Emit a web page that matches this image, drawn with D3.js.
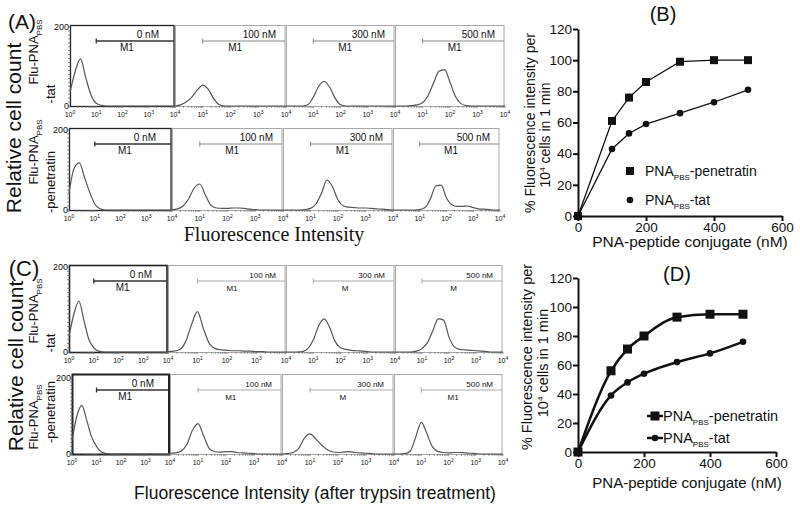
<!DOCTYPE html>
<html><head><meta charset="utf-8">
<script src="https://cdn.jsdelivr.net/npm/d3@7"></script>
<style>
body{margin:0;background:#fff}
svg{display:block}
text{font-family:"Liberation Sans",Arial,sans-serif;fill:#111}
</style>
</head><body>
<svg id="c" width="800" height="507"></svg>
<script>
// ---------- DATA ----------
// histogram channel grid (log10 of fluorescence intensity)
const logGrid = [0,0.2,0.4,0.6,0.8,1.0,1.2,1.4,1.6,1.8,2.0,2.2,2.4,2.6,2.8,3.0,3.2,3.4,3.6,3.8,4.0];
const concLabels = ["0 nM","100 nM","300 nM","500 nM"];
const decadeTicks = [0,1,2,3,4];

// (A) cell counts per channel, Flu-PNA_PBS-tat
const histA_tat = [
  [35,88,120,72,28,7,2,0,0,0,0,0,0,0,0,0,0,0,0,0,0],
  [0,3,10,22,40,53,42,18,3,0,0,0,0,0,0,0,0,0,0,0,0],
  [0,0,0,0,3,22,50,62,48,20,3,0,0,0,0,0,0,0,0,0,0],
  [0,0,0,1,3,8,26,58,88,92,60,24,6,1,0,0,0,0,0,0,0]
];
// (A) Flu-PNA_PBS-penetratin
const histA_pen = [
  [42,105,118,82,45,15,3,0,0,0,0,0,0,0,0,0,0,0,0,0,0],
  [1,3,10,28,55,65,38,12,5,4,4,5,5,4,2,1,0,0,0,0,0],
  [0,0,0,0,1,4,15,42,75,58,25,10,7,6,5,5,4,3,2,1,0],
  [0,0,0,0,0,1,6,28,60,62,30,13,9,9,10,6,3,2,1,0,0]
];
// (C) after trypsin, tat
const histC_tat = [
  [36,90,120,75,30,10,2,0,0,0,0,0,0,0,0,0,0,0,0,0,0],
  [1,2,6,25,65,95,55,20,8,5,4,3,3,2,2,1,1,0,0,0,0],
  [0,0,0,1,8,28,62,78,58,25,10,6,4,3,2,1,0,0,0,0,0],
  [0,0,0,0,2,8,22,50,78,75,35,12,6,5,4,3,2,1,0,0,0]
];
// (C) after trypsin, penetratin
const histC_pen = [
  [35,100,128,89,45,20,5,1,0,0,0,0,0,0,0,0,0,0,0,0,0],
  [2,3,8,25,62,80,48,15,6,5,6,6,4,3,2,1,0,0,0,0,0],
  [0,1,4,15,42,53,40,25,12,6,4,5,6,4,3,2,1,0,0,0,0],
  [0,0,1,8,45,83,55,20,7,4,3,4,4,3,2,1,0,0,0,0,0]
];
const gateA = ["M1","M1","M1","M1"];
const gateC_tat = ["M1","M1","M","M"];
const gateC_pen = ["M1","M1","M","M1"];

// (B) and (D) line charts
const concentrations = [0,100,150,200,300,400,500];
const B_penetratin = [0,61,76,86,99,100,100];
const B_tat = [0,43,53,59,66,73,81];
const D_penetratin = [0,56,71,80,93,95,95];
const D_tat = [0,39,48,54,62,68,76];
const yTicksLine = [0,20,40,60,80,100,120];
const xTicksLine = [0,200,400,600];

// ---------- DRAW ----------
const svg = d3.select("#c");

function histRow(cfg){
  const g = svg.append("g");
  cfg.data.forEach((counts,i)=>{
    const x0 = cfg.xs[i], x1 = cfg.xs[i+1];
    const x = d3.scaleLinear().domain([0,4]).range([x0, x1]);
    const xl = d3.scaleLog().domain([1,1e4]).range([x0, x1]);
    const y = d3.scaleLinear().domain([0,200]).range([cfg.y0, cfg.y200]);
    const ctrl = i===0;
    // frame
    g.append("rect").attr("x",x0+0.5).attr("y",cfg.top+0.5)
      .attr("width",x1-x0-1.5).attr("height",cfg.y0-cfg.top)
      .attr("fill","none").attr("stroke",ctrl?"#222":"#a8a8a8")
      .attr("stroke-width",ctrl?(cfg.thickCtrl||1.3):1);
    // minor ticks bottom
    xl.ticks().forEach(v=>{
      g.append("line").attr("x1",xl(v)).attr("x2",xl(v))
        .attr("y1",cfg.y0).attr("y2",cfg.y0+2).attr("stroke","#777").attr("stroke-width",0.7);
    });
    // decade labels
    decadeTicks.forEach(k=>{
      if(i>0 && k===0) return;
      const t = g.append("text").attr("x",x(k)).attr("y",cfg.y0+11)
        .attr("text-anchor","middle").attr("font-size",7).attr("fill","#333");
      t.append("tspan").text("10");
      t.append("tspan").attr("font-size",5).attr("dy",-3).text(String(k));
    });
    // left axis for first panel
    if(ctrl){
      y.ticks(20).forEach(v=>{
        g.append("line").attr("x1",x0-2).attr("x2",x0+1).attr("y1",y(v)).attr("y2",y(v))
          .attr("stroke","#555").attr("stroke-width",0.7);
      });
      [0,200].forEach(v=>{
        g.append("text").attr("x",x0-1).attr("y",y(v)+3).attr("text-anchor","end")
          .attr("font-size",9).attr("fill","#333").text(v);
      });
    }
    // histogram trace
    const line = d3.line().x((d,j)=>x(logGrid[j])).y(d=>y(d)).curve(d3.curveMonotoneX);
    g.append("path").datum(counts).attr("d",line).attr("fill","none")
      .attr("stroke","#555").attr("stroke-width",1.2);
    // gate marker M1 from 10^1 to 10^4
    const gy = cfg.top + 16;
    const gc = ctrl ? "#333" : (cfg.light ? "#aaa" : "#888");
    const gw = ctrl ? 1.3 : 1;
    g.append("line").attr("x1",x(1)).attr("x2",x(4)-1).attr("y1",gy).attr("y2",gy)
      .attr("stroke",gc).attr("stroke-width",gw);
    g.append("line").attr("x1",x(1)).attr("x2",x(1)).attr("y1",gy-2.5).attr("y2",gy+2.5)
      .attr("stroke",gc).attr("stroke-width",gw);
    const fs = (cfg.light && !ctrl) ? 8 : 10;
    g.append("text").attr("x",x1-(ctrl?16:10)).attr("y",gy-3).attr("text-anchor","end")
      .attr("font-size",fs).attr("fill","#333").text(concLabels[i]);
    g.append("text").attr("x",x(2.17)).attr("y",gy+10).attr("text-anchor","middle")
      .attr("font-size",fs).attr("fill","#333").text(cfg.gates[i]);
  });
}

histRow({data:histA_tat, xs:[70,175,286,395,505], top:25, y0:106, y200:27, gates:gateA});
histRow({data:histA_pen, xs:[69,172,283,393,500], top:128, y0:210, y200:130, gates:gateA});
histRow({data:histC_tat, xs:[69,168,286,395,503], top:265, y0:352, y200:267, gates:gateC_tat, light:true, thickCtrl:1.6});
histRow({data:histC_pen, xs:[72,170,282,394,503], top:374, y0:454, y200:378, gates:gateC_pen, light:true, thickCtrl:2});

// rotated labels
function rotText(x,y,size,parts,family){
  const t = svg.append("text").attr("transform",`translate(${x},${y}) rotate(-90)`)
    .attr("text-anchor","middle").attr("dy","0.35em").attr("font-size",size);
  if(family) t.style("font-family",family);
  parts.forEach(p=>{
    const s = t.append("tspan").text(p.t);
    if(p.fs) s.attr("font-size",p.fs);
    if(p.dy) s.attr("dy",p.dy);
  });
  return t;
}
const fluParts = [{t:"Flu-PNA"},{t:"PBS",fs:8,dy:4},{t:"",dy:-4}];
rotText(14,128,21,[{t:"Relative cell count"}]);
rotText(33,52,13,fluParts);
rotText(50,94,13,[{t:"-tat"}]);
rotText(33,152,13,fluParts);
rotText(50,182,13,[{t:"-penetratin"}]);
rotText(16,366,21,[{t:"Relative cell count"}]);
rotText(33,311,13,fluParts);
rotText(50,343,13,[{t:"-tat"}]);
rotText(33,417,13,fluParts);
rotText(50,412,13,[{t:"-penetratin"}]);

svg.append("text").attr("x",22).attr("y",29).attr("text-anchor","middle").attr("font-size",21).text("(A)");
svg.append("text").attr("x",24).attr("y",276).attr("text-anchor","middle").attr("font-size",22).text("(C)");
svg.append("text").attr("x",274).attr("y",241).attr("text-anchor","middle").attr("font-size",20)
  .style("font-family","'Liberation Serif','Times New Roman',serif").text("Fluorescence Intensity");
svg.append("text").attr("x",315).attr("y",499).attr("text-anchor","middle").attr("font-size",17.5)
  .text("Fluorescence Intensity (after trypsin treatment)");

// line charts
function lineChart(cfg){
  const g = svg.append("g");
  const x = d3.scaleLinear().domain([0,600]).range([578,cfg.xEnd]);
  const y = d3.scaleLinear().domain([0,120]).range([cfg.yBase,cfg.yTop]);
  const ax = g.append("g").attr("transform",`translate(0,${cfg.yBase})`)
    .call(d3.axisBottom(x).tickValues(xTicksLine).tickSize(5).tickSizeOuter(0).tickPadding(1));
  const ay = g.append("g").attr("transform",`translate(578,0)`)
    .call(d3.axisLeft(y).tickValues(yTicksLine).tickSize(5).tickSizeOuter(0).tickPadding(1));
  [ax,ay].forEach(a=>{
    a.select(".domain").attr("stroke","#111").attr("stroke-width",2);
    a.selectAll(".tick line").attr("stroke","#111").attr("stroke-width",2);
    a.selectAll(".tick text").attr("font-size",13.5).attr("fill","#111")
      .style("font-family","'Liberation Sans',Arial,sans-serif");
  });
  const line = d3.line().x((d,i)=>x(concentrations[i])).y(d=>y(d));
  if(cfg.curve) line.curve(d3.curveMonotoneX);
  [cfg.pen,cfg.tat].forEach(s=>{
    g.append("path").datum(s).attr("d",line).attr("fill","none")
      .attr("stroke","#111").attr("stroke-width",cfg.lw);
  });
  const sq = cfg.sq;
  g.selectAll(".sq").data(cfg.pen).enter().append("rect")
    .attr("x",(d,i)=>x(concentrations[i])-sq/2).attr("y",d=>y(d)-sq/2)
    .attr("width",sq).attr("height",sq).attr("fill","#111");
  g.selectAll(".ci").data(cfg.tat).enter().append("circle")
    .attr("cx",(d,i)=>x(concentrations[i])).attr("cy",d=>y(d)).attr("r",3.3).attr("fill","#111");
  // legend
  cfg.legend.forEach((L,k)=>{
    if(cfg.curve){
      g.append("line").attr("x1",L.x-8).attr("x2",L.x+8).attr("y1",L.y).attr("y2",L.y)
        .attr("stroke","#111").attr("stroke-width",cfg.lw);
    }
    if(k===0) g.append("rect").attr("x",L.x-sq/2).attr("y",L.y-sq/2).attr("width",sq).attr("height",sq).attr("fill","#111");
    else g.append("circle").attr("cx",L.x).attr("cy",L.y).attr("r",3.3).attr("fill","#111");
    const t = g.append("text").attr("x",L.tx).attr("y",L.y+5).attr("font-size",cfg.lfs);
    t.append("tspan").text("PNA");
    t.append("tspan").attr("font-size",8).attr("dy",4).text("PBS");
    t.append("tspan").attr("dy",-4).text(k===0?"-penetratin":"-tat");
  });
  // titles
  g.append("text").attr("x",cfg.title[0]).attr("y",cfg.title[1]).attr("text-anchor","middle")
    .attr("font-size",20).text(cfg.title[2]);
  g.append("text").attr("x",cfg.xt[0]).attr("y",cfg.xt[1]).attr("text-anchor","middle")
    .attr("font-size",cfg.xtfs).text("PNA-peptide conjugate (nM)");
  g.append("text").attr("transform",`translate(${cfg.yt1[0]},${cfg.yt1[1]}) rotate(-90)`)
    .attr("text-anchor","middle").attr("dy","0.35em").attr("font-size",cfg.ytfs)
    .text("% Fluorescence intensity per");
  const t2 = g.append("text").attr("transform",`translate(${cfg.yt2[0]},${cfg.yt2[1]}) rotate(-90)`)
    .attr("text-anchor","middle").attr("dy","0.35em").attr("font-size",cfg.ytfs);
  t2.append("tspan").text("10");
  t2.append("tspan").attr("font-size",8).attr("dy",-5).text("4");
  t2.append("tspan").attr("dy",5).text(" cells in 1 min");
}

lineChart({xEnd:782, yBase:216, yTop:29, pen:B_penetratin, tat:B_tat, lw:1.3, sq:8, curve:false,
  legend:[{x:630,y:171,tx:645},{x:630,y:200,tx:645}], lfs:14,
  title:[663,21,"(B)"], xt:[690,247], xtfs:15.5, yt1:[530,123], yt2:[545,135], ytfs:14});
lineChart({xEnd:776, yBase:452, yTop:278, pen:D_penetratin, tat:D_tat, lw:2.5, sq:9, curve:true,
  legend:[{x:655,y:416,tx:663},{x:655,y:438,tx:663}], lfs:14.5,
  title:[677,281,"(D)"], xt:[687,488], xtfs:15, yt1:[527,357], yt2:[543,363], ytfs:14.5});
</script>
</body></html>
